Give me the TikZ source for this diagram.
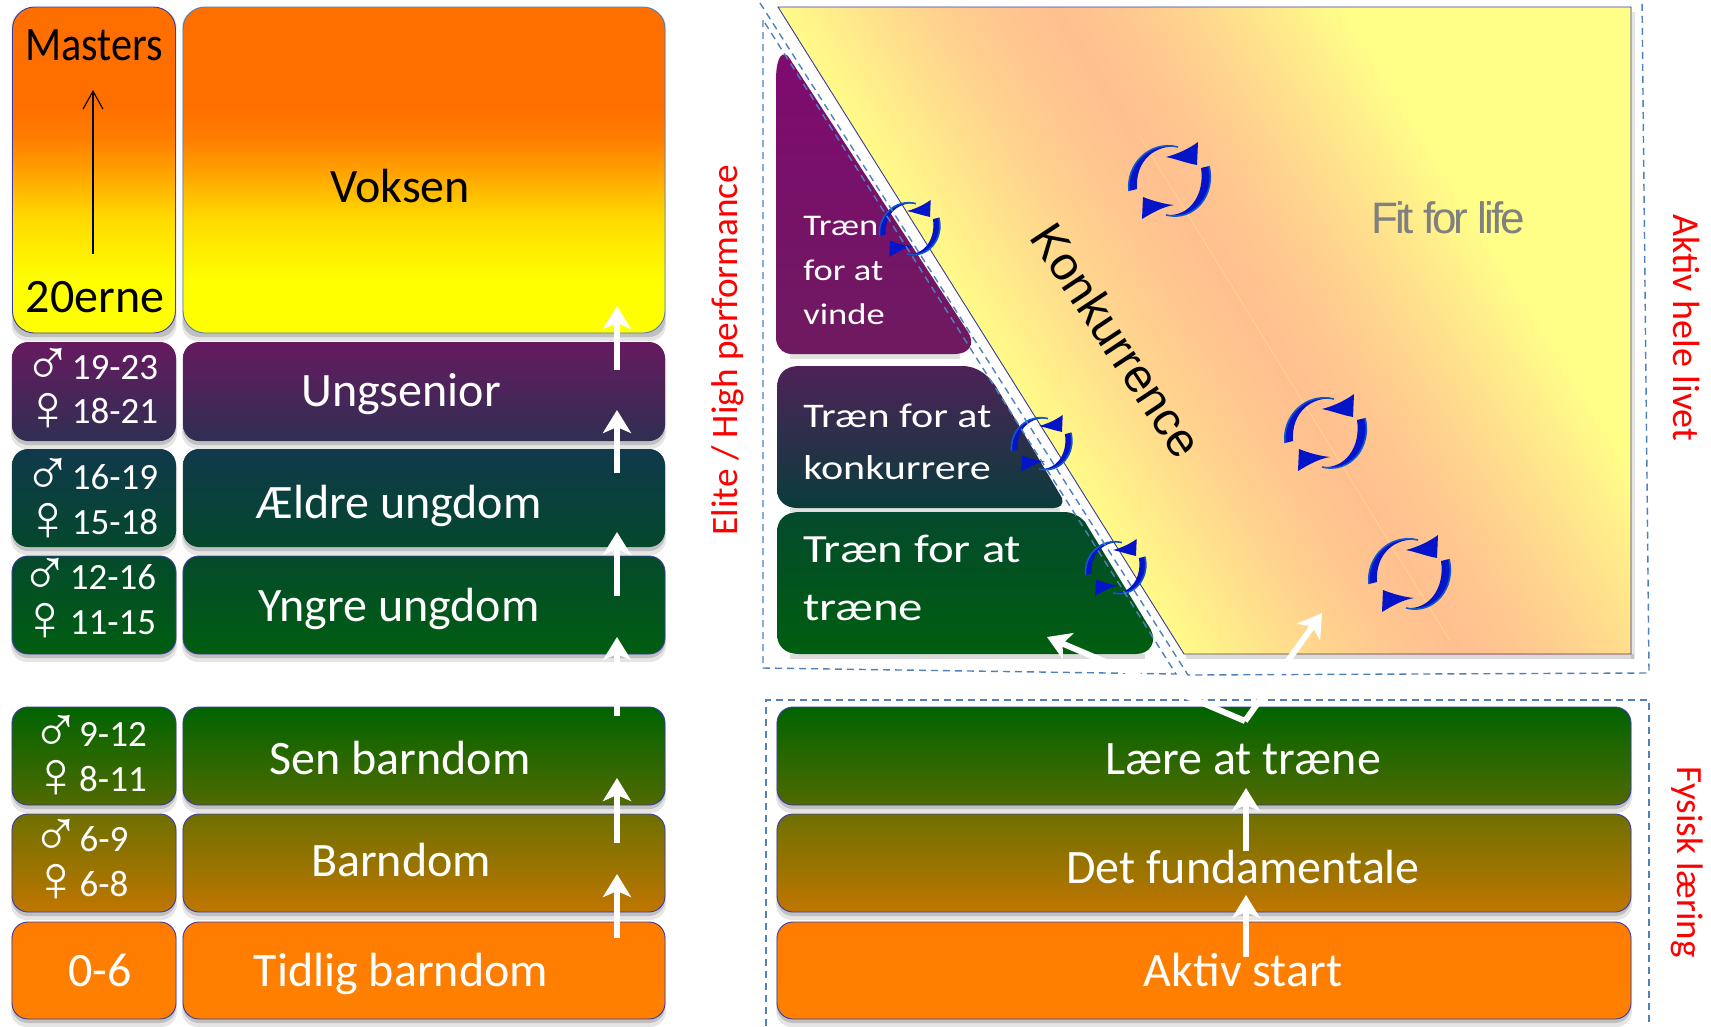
\documentclass[tikz,border=0pt]{standalone}
\usepackage{fontspec}
\setmainfont{Carlito}
\newfontfamily\arialf{Liberation Sans}
\newfontfamily\fitf[LetterSpace=-7]{Liberation Sans}
\usetikzlibrary{arrows.meta}
\definecolor{edgeblue}{HTML}{3A3AA8}
\definecolor{dashblue}{HTML}{4F81BD}
\definecolor{iconblue}{HTML}{0414C8}
\definecolor{iconline}{HTML}{1058CC}
\definecolor{peach}{HTML}{FFC090}
\definecolor{paley}{HTML}{FFFF88}
\definecolor{vA}{HTML}{FFD800}\definecolor{vB}{HTML}{FFA000}\definecolor{vC}{HTML}{FF7D00}\definecolor{vD}{HTML}{FF6F00}
\pgfdeclareverticalshading{voksshade}{100bp}{color(0bp)=(yellow); color(25bp)=(yellow); color(33bp)=(yellow); color(43bp)=(vA); color(50bp)=(vB); color(55bp)=(vC); color(60bp)=(vD); color(100bp)=(vD)}
\tikzset{
  x=1pt,y=-1pt,
  stagebox/.style={draw=edgeblue,line width=0.9pt,rounded corners=16pt,inner sep=0pt},
  bigbox/.style={stagebox,rounded corners=22pt},
  lbl/.style={text=white,font=\fontsize{48}{48}\selectfont,anchor=base,inner sep=0pt},
  agelbl/.style={text=white,font=\fontsize{37}{37}\selectfont,anchor=base,inner sep=0pt},
  symlbl/.style={text=white,font=\arialf\fontsize{66}{66}\selectfont,inner sep=0pt},
  blacklbl/.style={lbl,text=black},
  redlbl/.style={text=red,inner sep=0pt},
  wlbl/.style={lbl,anchor=base west,xscale=1.22,transform shape},
  dashline/.style={draw=dashblue,line width=1.4pt,dash pattern=on 7pt off 5pt},
  whitearrow/.style={draw=white,line width=6pt,-{Stealth[length=23pt,width=28pt,inset=6pt]}}
}
\definecolor{cUngT}{HTML}{661A60}\definecolor{cUngB}{HTML}{2F2F52}
\definecolor{cAelT}{HTML}{10394C}\definecolor{cAelB}{HTML}{04482C}
\definecolor{cYngT}{HTML}{044A2C}\definecolor{cYngB}{HTML}{005E10}
\definecolor{cSenT}{HTML}{006400}\definecolor{cSenB}{HTML}{506A00}
\definecolor{cBarT}{HTML}{6E7000}\definecolor{cBarB}{HTML}{C07600}
\definecolor{cTidT}{HTML}{FF7C00}\definecolor{cTidB}{HTML}{FF8000}
\definecolor{cPurT}{HTML}{800A70}\definecolor{cPurB}{HTML}{6E1A60}
\definecolor{cKonT}{HTML}{4E2258}\definecolor{cKonB}{HTML}{0A3C3C}
\newcommand\stage[6]{%
  \fill[black,opacity=.10,rounded corners=16pt] (#2-1,#3+3) rectangle (#4+1,#5+8);
  \fill[black,opacity=.16,rounded corners=16pt] (#2,#3+3) rectangle (#4,#5+4);
  \node[#6,minimum width={(#4-#2)*1pt},minimum height={(#5-#3)*1pt}] (#1) at ({(#2+#4)/2},{(#3+#5)/2}) {};}
\newcommand\recycle[3]{%
  \begin{scope}[shift={(#1,#2)},scale=#3]
    \fill[iconblue] (-41,11) .. controls (-44,-16) and (-20,-40) .. (8,-33) .. controls (-14,-36) and (-35,-20) .. (-33,9) -- cycle;
    \draw[iconline,line width=1.6pt] (-41,11) .. controls (-44,-16) and (-20,-40) .. (8,-33);
    \fill[iconblue] (28,-38) .. controls (20,-32) and (8,-26) .. (-4,-23) .. controls (6,-21) and (16,-17) .. (27,-15) -- cycle;
    \fill[iconblue] (39,-14) .. controls (46,14) and (25,42) .. (-4,35) .. controls (20,37) and (35,14) .. (31,-12) -- cycle;
    \draw[iconline,line width=1.6pt] (39,-14) .. controls (46,14) and (25,42) .. (-4,35);
    \fill[iconblue] (-27,17) .. controls (-17,21) and (-6,24) .. (4,25) .. controls (-8,27) and (-18,33) .. (-28,39) -- cycle;
  \end{scope}}
\begin{document}
\begin{tikzpicture}
\useasboundingbox[fill=white] (0,0) rectangle (1711,1026);
% upper right pane
\fill[black,opacity=.14] (1186,654) rectangle (1634,659);
\fill[black,opacity=.10] (1631,12) rectangle (1635,659);
\fill[paley] (778,7) -- (1631,7) -- (1631,654) -- (1184,654) -- cycle;
\begin{scope}
  \clip (778,7) -- (1631,7) -- (1631,654) -- (1184,654) -- cycle;
  \begin{scope}[shift={(1255,330)},rotate=32.1]
    \foreach \d in {-245,-241,...,247} {
      \pgfmathsetmacro\p{max(0,100*(1-(abs(\d)/245)^1.4))}
      \colorlet{stripc}{peach!\p!paley}
      \fill[stripc] (\d,-1000) rectangle (1000,1000);
    }
  \end{scope}
\end{scope}
\draw[edgeblue,line width=.9pt] (778,7) -- (1631,7) -- (1631,654) -- (1184,654) -- cycle;
\draw[paley,opacity=.35,line width=.8pt] (1139,135) -- (1450,641);
% left column
\stage{bMasters}{12.5}{7}{175.5}{333}{bigbox,shading=voksshade}
\stage{bVoksen}{183}{7}{665}{333}{bigbox,draw=cyan!40!edgeblue,shading=voksshade}
\stage{aUng}{12}{342}{176}{441}{stagebox,draw=none,top color=cUngT,bottom color=cUngB}
\stage{bUng}{183}{342}{665}{441}{stagebox,draw=none,top color=cUngT,bottom color=cUngB}
\stage{aAel}{12}{449}{176}{547}{stagebox,draw=none,top color=cAelT,bottom color=cAelB}
\stage{bAel}{183}{449}{665}{547}{stagebox,draw=none,top color=cAelT,bottom color=cAelB}
\stage{aYng}{12}{556}{176}{654}{stagebox,top color=cYngT,bottom color=cYngB}
\stage{bYng}{183}{556}{665}{654}{stagebox,top color=cYngT,bottom color=cYngB}
\stage{aSen}{12}{707}{176}{805}{stagebox,top color=cSenT,bottom color=cSenB}
\stage{bSen}{183}{707}{665}{805}{stagebox,top color=cSenT,bottom color=cSenB}
\stage{aBar}{12}{814}{176}{912}{stagebox,top color=cBarT,bottom color=cBarB}
\stage{bBar}{183}{814}{665}{912}{stagebox,top color=cBarT,bottom color=cBarB}
\stage{aTid}{12}{922}{176}{1019}{stagebox,top color=cTidT,bottom color=cTidB}
\stage{bTid}{183}{922}{665}{1019}{stagebox,top color=cTidT,bottom color=cTidB}
% lower right
\stage{bLaere}{777}{707}{1631}{805}{stagebox,top color=cSenT,bottom color=cSenB}
\stage{bFund}{777}{814}{1631}{912}{stagebox,top color=cBarT,bottom color=cBarB}
\stage{bAktiv}{777}{922}{1631}{1019}{stagebox,top color=cTidT,bottom color=cTidB}
% triangles
\fill[black,opacity=.12] (790,354) rectangle (960,359);
\shade[top color=cPurT,bottom color=cPurB]
  (776,80) .. controls (776,62) and (780,50) .. (788,56) -- (968,332) .. controls (976,345) and (968,354) .. (955,354) -- (792,354) .. controls (782,354) and (776,346) .. (776,338) -- cycle;
\fill[black,opacity=.12] (790,508) rectangle (1060,512);
\shade[top color=cKonT,bottom color=cKonB]
  (777,388) .. controls (777,374) and (785,366) .. (799,366) -- (962,366) .. controls (978,366) and (990,376) .. (998,390) -- (1062,498) .. controls (1064,504) and (1060,508) .. (1054,508) -- (797,508) .. controls (785,508) and (777,500) .. (777,490) -- cycle;
\fill[black,opacity=.14] (790,654) rectangle (1145,659);
\shade[top color=cYngT,bottom color=cYngB]
  (777,532) .. controls (777,520) and (785,512) .. (799,512) -- (1064,512) .. controls (1072,512) and (1080,516) .. (1085,522) -- (1151,630) .. controls (1157,642) and (1150,654) .. (1136,654) -- (799,654) .. controls (785,654) and (777,646) .. (777,634) -- cycle;
% small icons and dashes
\recycle{910}{228}{.74}
\recycle{1042}{443}{.74}
\recycle{1116}{567}{.74}
\draw[dashline] (763,20) -- (763,668) -- (1176,674) -- cycle;
\draw[dashline] (760,3) -- (1188,675) -- (1649,673) -- (1642,0);
\draw[dashline] (766,1026) -- (766,700) -- (1649,700) -- (1649,1026);
% big icons
\recycle{1170}{180}{1}
\recycle{1326}{432}{1}
\recycle{1410}{573}{1}
% labels
\node[blacklbl,xscale=.88,transform shape] (tMasters) at (94,60) {Masters};
\node[blacklbl] (t20) at (95,312) {20erne};
\node[blacklbl] (tVoksen) at (400,202) {Voksen};
\node[lbl] (tUng) at (401,406) {Ungsenior};
\node[lbl] (tAel) at (399,518) {Ældre ungdom};
\node[lbl] (tYng) at (399,621) {Yngre ungdom};
\node[lbl] (tSen) at (400,774) {Sen barndom};
\node[lbl] (tBar) at (401,876) {Barndom};
\node[lbl] (tTid) at (401,986) {Tidlig barndom};
\node[lbl] (tLaere) at (1243,774) {Lære at træne};
\node[lbl] (tFund) at (1243,883) {Det fundamentale};
\node[lbl] (tAktiv) at (1243,986) {Aktiv start};
\node[lbl] (t06) at (100,986) {0-6};
\node[agelbl] (a1) at (115,379) {19-23};
\node[agelbl] (a2) at (115,423) {18-21};
\node[agelbl] (a3) at (115,489) {16-19};
\node[agelbl] (a4) at (115,534) {15-18};
\node[agelbl] (a5) at (113,589) {12-16};
\node[agelbl] (a6) at (113,634) {11-15};
\node[agelbl] (a7) at (113,746) {9-12};
\node[agelbl] (a8) at (113,791) {8-11};
\node[agelbl] (a9) at (104,851) {6-9};
\node[agelbl] (a10) at (104,896) {6-8};
\node[symlbl] (s1) at (48,367) {♂};
\node[symlbl] (s2) at (48,412) {♀};
\node[symlbl] (s3) at (48,477) {♂};
\node[symlbl] (s4) at (48,522) {♀};
\node[symlbl] (s5) at (45,577) {♂};
\node[symlbl] (s6) at (45,622) {♀};
\node[symlbl] (s7) at (56,734) {♂};
\node[symlbl] (s8) at (56,779) {♀};
\node[symlbl] (s9) at (56,838) {♂};
\node[symlbl] (s10) at (56,883) {♀};
\node[wlbl,font=\fontsize{30}{30}\selectfont] (w1) at (803,235) {Træn};
\node[wlbl,font=\fontsize{30}{30}\selectfont] (w2) at (803,280) {for at};
\node[wlbl,font=\fontsize{30}{30}\selectfont] (w3) at (803,324) {vinde};
\node[wlbl,font=\fontsize{34.5}{34.5}\selectfont] (w4) at (803,427) {Træn for at};
\node[wlbl,font=\fontsize{34.5}{34.5}\selectfont] (w5) at (803,479) {konkurrere};
\node[wlbl,font=\fontsize{40}{40}\selectfont] (w6) at (803,562) {Træn for at};
\node[wlbl,font=\fontsize{40}{40}\selectfont] (w7) at (803,620) {træne};
\node[text=black,font=\arialf\fontsize{47.5}{47.5}\selectfont,rotate=-56.5,inner sep=0pt] (tKonk) at (1117,340) {Konkurrence};
\node[text=black!50,font=\fitf\fontsize{44}{44}\selectfont,inner sep=0pt] (tFit) at (1448,218) {Fit for life};
\node[redlbl,rotate=90,font=\fontsize{37.3}{37.3}\selectfont] (tElite) at (728,350) {Elite / High performance};
\node[redlbl,rotate=-90,font=\fontsize{38}{38}\selectfont] (tAktivh) at (1687,328) {Aktiv hele livet};
\node[redlbl,rotate=-90,font=\fontsize{37}{37}\selectfont] (tFys) at (1687,862) {Fysisk læring};
% thin arrow
\coordinate (mS) at (93,254); \coordinate (mE) at (93,90);
\draw[black,line width=1.1pt,-{Straight Barb[length=18pt,width=20pt]}] (mS) -- (mE);
% white arrows
\coordinate (p1) at (617,370); \coordinate (q1) at (617,306);
\coordinate (p2) at (617,473); \coordinate (q2) at (617,410);
\coordinate (p3) at (617,596); \coordinate (q3) at (617,532);
\coordinate (p4) at (617,716); \coordinate (q4) at (617,637);
\coordinate (p5) at (617,843); \coordinate (q5) at (617,778);
\coordinate (p6) at (617,938); \coordinate (q6) at (617,874);
\coordinate (p7) at (1246,851); \coordinate (q7) at (1246,788);
\coordinate (p8) at (1246,957); \coordinate (q8) at (1246,895);
\foreach \i in {1,...,8} {\draw[whitearrow] (p\i) -- (q\i);}
\coordinate (v) at (1245,721); \coordinate (vl) at (1047,637); \coordinate (vr) at (1322,613);
\draw[whitearrow] (v) -- (vl);
\draw[whitearrow] (v) -- (vr);
\end{tikzpicture}
\end{document}
